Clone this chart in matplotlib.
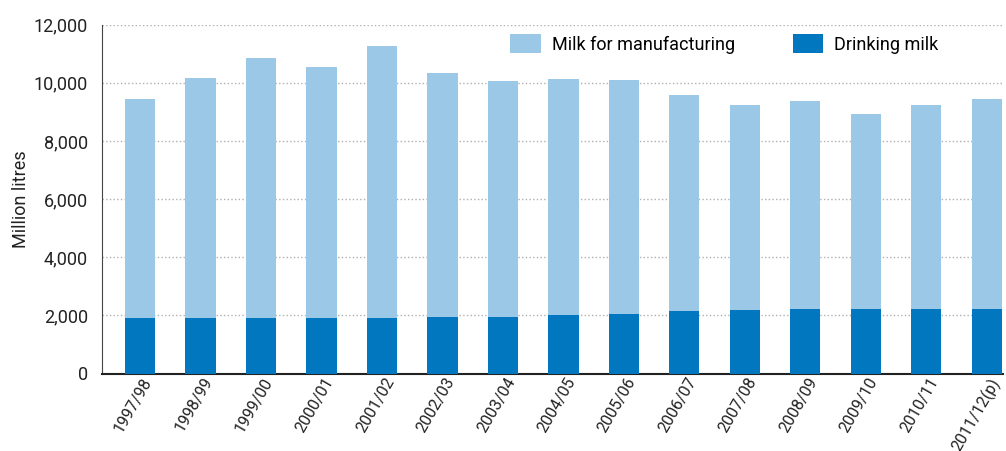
import matplotlib
matplotlib.use("Agg")
import matplotlib.pyplot as plt
import matplotlib.transforms as mtransforms
from matplotlib.ticker import FuncFormatter

years = ["1997/98", "1998/99", "1999/00", "2000/01", "2001/02", "2002/03", "2003/04",
         "2004/05", "2005/06", "2006/07", "2007/08", "2008/09", "2009/10", "2010/11",
         "2011/12(p)"]
drinking = [1905, 1905, 1905, 1905, 1905, 1940, 1940, 2010, 2040, 2145, 2180, 2215, 2215, 2215, 2215]
total = [9440, 10165, 10855, 10545, 11270, 10340, 10065, 10130, 10100, 9580, 9235, 9375, 8925, 9235, 9440]
manufacturing = [t - d for t, d in zip(total, drinking)]

plt.rcParams['font.family'] = ['Roboto', 'DejaVu Sans']

fig = plt.figure(figsize=(10.06, 4.51), dpi=100)
ax = fig.add_axes([102 / 1006, 1 - 373.5 / 451, (1003 - 102) / 1006, (373.5 - 24.7) / 451])

x = list(range(len(years)))
ax.bar(x, drinking, width=0.5, color="#0077be", label="Drinking milk", zorder=3)
ax.bar(x, manufacturing, width=0.5, bottom=drinking, color="#9bc8e6",
       label="Milk for manufacturing", zorder=3)

ax.set_ylim(0, 12000)
ax.set_xlim(-0.63, 14.27)
ax.set_yticks(range(0, 12001, 2000))
ax.yaxis.set_major_formatter(FuncFormatter(lambda v, p: f"{int(v):,}"))
ax.set_xticks(x)
ax.set_xticklabels(years, rotation=60, ha="right", va="top", rotation_mode="anchor")
ax.tick_params(axis="both", length=0, labelsize=13, colors="#222222")
ax.tick_params(axis="x", pad=1, labelsize=11.5)
ax.tick_params(axis="y", pad=10)
offset = mtransforms.ScaledTranslation(2 / 100, 0, fig.dpi_scale_trans)
for lab in ax.get_xticklabels():
    lab.set_transform(lab.get_transform() + offset)
ax.grid(axis="y", linestyle=":", color="#b0b0b0", linewidth=1, zorder=0)
for s in ["top", "right"]:
    ax.spines[s].set_visible(False)
ax.spines["left"].set_color("#444444")
ax.spines["bottom"].set_color("#222222")
ax.spines["bottom"].set_linewidth(1.5)
ax.set_ylabel("Million litres", fontsize=13, color="#222222")
ax.yaxis.set_label_coords(-0.08, 0.5)

h, l = ax.get_legend_handles_labels()
leg = ax.legend(h[::-1], l[::-1], ncol=2, frameon=False, fontsize=13,
                loc="upper left", bbox_to_anchor=(0.443, 1.0), columnspacing=3.2,
                handlelength=1.7, handleheight=1.3, handletextpad=0.6, borderaxespad=0.1)

plt.savefig("out.png", dpi=100)
